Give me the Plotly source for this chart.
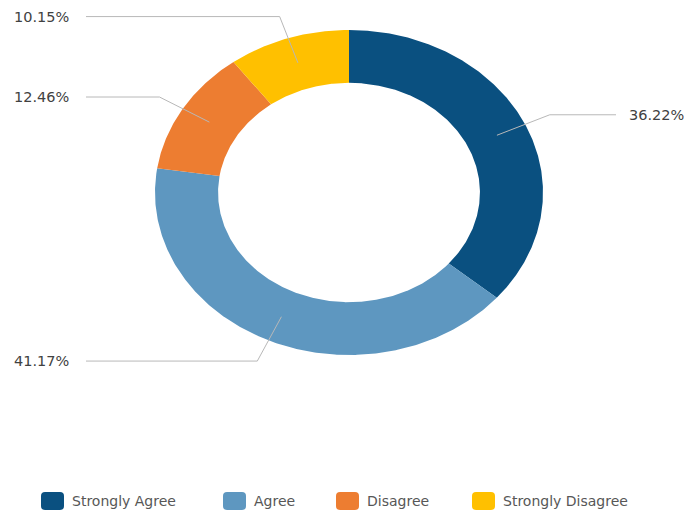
import numpy as np
import plotly.graph_objects as go

# Survey response shares (percent), clockwise from 12 o'clock
categories = ["Strongly Agree", "Agree", "Disagree", "Strongly Disagree"]
shares = [36.22, 41.17, 12.46, 10.15]
colors = ["#0a5080", "#5e97c0", "#ed7d31", "#ffc000"]

# Donut geometry in pixel-space axes (elliptical ring)
CX, CY = 349.0, 192.5
RX, RY = 194.0, 162.5
HOLE = 0.675
LEADER_START, LEADER_ELBOW = 0.84, 1.14
LEFT_LINE_END, RIGHT_LINE_END = 86, 616
LEFT_TEXT_X, RIGHT_TEXT_X = 71, 627

W, H = 684, 512
label_font = dict(family="DejaVu Sans, Arial, sans-serif", size=14.5, color="#414141")
legend_font = dict(family="DejaVu Sans, Arial, sans-serif", size=14, color="#575757")


def ellipse_point(r, theta_deg):
    t = np.radians(theta_deg)
    return CX + r * RX * np.sin(t), CY - r * RY * np.cos(t)


fig = go.Figure()
annotations = []

total = float(sum(shares))
start = 0.0
for name, val, col in zip(categories, shares, colors):
    sweep = 360.0 * val / total
    end = start + sweep
    n = max(int(sweep * 2), 8)
    th = np.linspace(start, end, n)
    ox, oy = ellipse_point(1.0, th)
    ix, iy = ellipse_point(HOLE, th[::-1])
    xs = np.concatenate([ox, ix, ox[:1]])
    ys = np.concatenate([oy, iy, oy[:1]])
    fig.add_trace(go.Scatter(
        x=xs, y=ys, mode="lines", fill="toself", fillcolor=col,
        line=dict(width=0, color=col), name=name, hoveron="fills",
        text=f"{name}: {val:.2f}%", hoverinfo="text", showlegend=False,
    ))

    # leader line: from ring middle out along the slice's mid-angle, then horizontal
    mid = (start + end) / 2.0
    x0, y0 = ellipse_point(LEADER_START, mid)
    x1, y1 = ellipse_point(LEADER_ELBOW, mid)
    on_right = np.sin(np.radians(mid)) > 0
    x2 = RIGHT_LINE_END if on_right else LEFT_LINE_END
    fig.add_trace(go.Scatter(
        x=[x0, x1, x2], y=[y0, y1, y1], mode="lines",
        line=dict(color="#b8b8b8", width=1), hoverinfo="skip", showlegend=False,
    ))
    annotations.append(dict(
        x=RIGHT_TEXT_X if on_right else LEFT_TEXT_X, y=y1,
        xref="x", yref="y", text=f"{val:.2f}%", showarrow=False,
        xanchor="left" if on_right else "right", yanchor="middle",
        font=label_font,
    ))
    start = end

# Legend row along the bottom
legend_swatch_x = [41, 223, 336, 472]
SW_W, SW_H, SW_R = 23, 18, 4
LEG_Y = 501
shapes = []
for name, col, sx in zip(categories, colors, legend_swatch_x):
    x0, x1 = sx, sx + SW_W
    y0, y1 = LEG_Y - SW_H / 2, LEG_Y + SW_H / 2
    r = SW_R
    path = (f"M {x0 + r},{y0} L {x1 - r},{y0} Q {x1},{y0} {x1},{y0 + r} "
            f"L {x1},{y1 - r} Q {x1},{y1} {x1 - r},{y1} L {x0 + r},{y1} "
            f"Q {x0},{y1} {x0},{y1 - r} L {x0},{y0 + r} Q {x0},{y0} {x0 + r},{y0} Z")
    shapes.append(dict(type="path", path=path, xref="x", yref="y",
                       fillcolor=col, line=dict(width=0)))
    annotations.append(dict(
        x=x1 + 6, y=LEG_Y, xref="x", yref="y", text=name, showarrow=False,
        xanchor="left", yanchor="middle", font=legend_font,
    ))

fig.update_layout(
    width=W, height=H,
    margin=dict(l=0, r=0, t=0, b=0),
    paper_bgcolor="white", plot_bgcolor="white",
    xaxis=dict(range=[0, W], visible=False, fixedrange=True),
    yaxis=dict(range=[H, 0], visible=False, fixedrange=True),
    shapes=shapes,
    annotations=annotations,
    showlegend=False,
)

fig.write_html("out.html")
